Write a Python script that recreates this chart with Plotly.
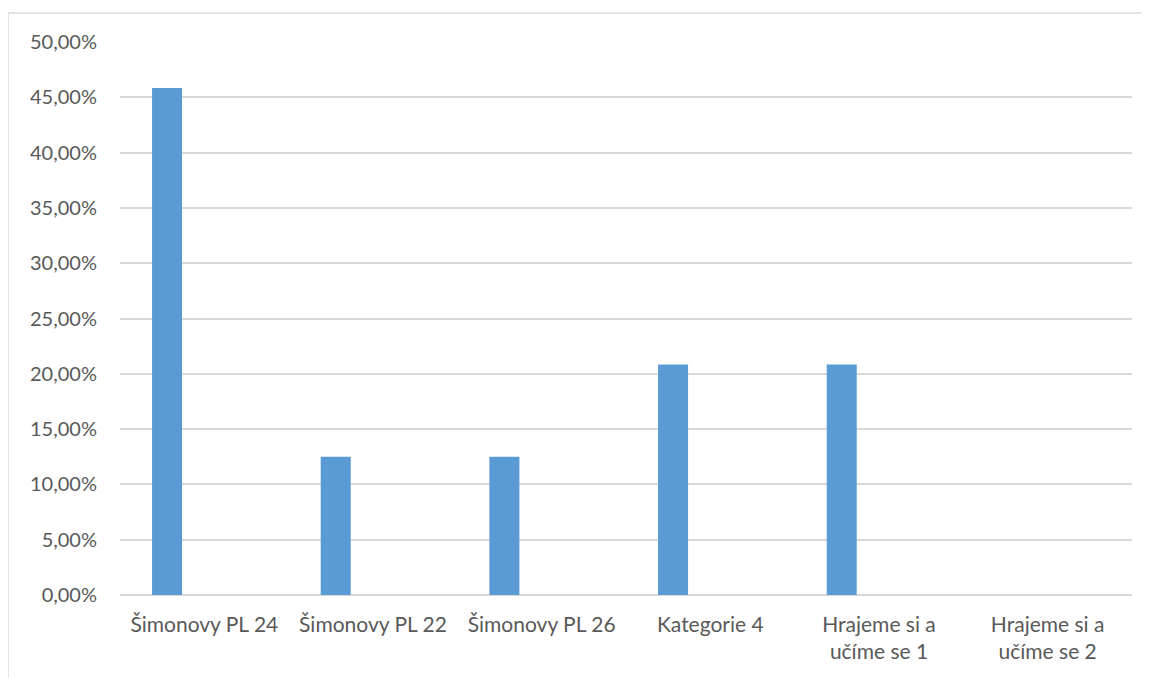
import plotly.graph_objects as go

categories = ["Šimonovy PL 24", "Šimonovy PL 22", "Šimonovy PL 26", "Kategorie 4",
              "Hrajeme si a<br>učíme se 1", "Hrajeme si a<br>učíme se 2"]
values = [0.4583, 0.125, 0.125, 0.2083, 0.2083, 0.0]
tick_vals = [0.0, 0.05, 0.10, 0.15, 0.20, 0.25, 0.30, 0.35, 0.40, 0.45, 0.50]

fig = go.Figure()
fig.add_trace(go.Bar(
    x=list(range(len(categories))), y=values,
    marker=dict(color="#5b9bd5", line=dict(width=0)),
    width=0.178, offset=-0.31,
))

grid = "#d9d9d9"
font_color = "#595959"
fig.update_layout(
    width=1141, height=670,
    margin=dict(l=112, r=17, t=34, b=83),
    paper_bgcolor="white", plot_bgcolor="white",
    separators=", ",
    showlegend=False,
    font=dict(family="Lato, Open Sans, sans-serif", size=20, color=font_color),
    xaxis=dict(
        tickmode="array", tickvals=list(range(len(categories))), ticktext=categories,
        range=[-0.5, len(categories) - 0.5],
        showgrid=False, zeroline=False, showline=False, ticks="", ticklen=0,
        ticklabelstandoff=15, tickfont=dict(size=21),
    ),
    yaxis=dict(
        range=[0, 0.5], tickvals=tick_vals, tickformat=".2%",
        showgrid=True, gridcolor=grid, gridwidth=1.5,
        zeroline=True, zerolinecolor=grid, zerolinewidth=1.5,
        showline=False, ticks="", ticklabelstandoff=22, tickfont=dict(size=20),
    ),
    shapes=[
        dict(type="line", xref="paper", yref="paper", x0=-0.1107, x1=1.1, y0=1.0524, y1=1.0524,
             line=dict(color=grid, width=1.5)),
        dict(type="line", xref="paper", yref="paper", x0=-0.1107, x1=-0.1107, y0=1.0524, y1=-0.2,
             line=dict(color=grid, width=1.5)),
    ],
)

fig.write_html("out.html")
